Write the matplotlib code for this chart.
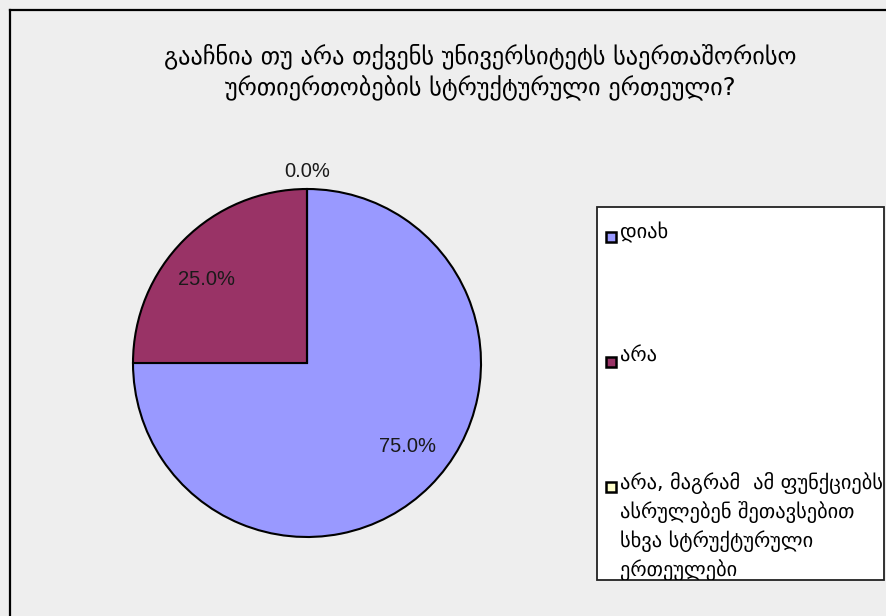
import numpy as np
import matplotlib.pyplot as plt
from matplotlib.patches import Rectangle
from matplotlib.lines import Line2D

# data
title = "გააჩნია თუ არა თქვენს უნივერსიტეტს საერთაშორისო\nურთიერთობების სტრუქტურული ერთეული?"
labels = ["დიახ", "არა",
          "არა, მაგრამ  ამ ფუნქციებს\nასრულებენ შეთავსებით\nსხვა სტრუქტურული\nერთეულები"]
values = [75.0, 25.0, 0.0]
colors = ["#9999FF", "#993366", "#FFFFCC"]

W, H = 886, 616
bg = "#EEEEEE"
fig = plt.figure(figsize=(W / 100, H / 100), dpi=100, facecolor=bg)

def fx(px):
    return px / W

def fy(py):
    return 1 - py / H

# outer border (left and top edges visible)
fig.add_artist(Line2D([fx(9.5), fx(9.5)], [fy(9.5), 0], color="black", lw=1.6))
fig.add_artist(Line2D([fx(9.5), 1], [fy(9.5), fy(9.5)], color="black", lw=1.6))

fig.text(fx(480), fy(72), title, ha="center", va="center", fontsize=17.5,
         family="DejaVu Sans", linespacing=1.32, color="#000000")

# pie
cx, cy, r = 307, 363, 174
ax = fig.add_axes([fx(cx - r), fy(cy + r), 2 * r / W, 2 * r / H])
wedges, texts, autotexts = ax.pie(values, colors=colors, startangle=90, counterclock=False,
                                  autopct="%1.1f%%", pctdistance=0.75,
                                  wedgeprops=dict(edgecolor="black", linewidth=1.5),
                                  textprops=dict(fontsize=14.5, family="Liberation Sans", color="#1a1a1a"))
ax.set_xlim(-1, 1)
ax.set_ylim(-1, 1)
ax.set_aspect("equal")
ax.axis("off")

# labels sit slightly counter-clockwise of the slice middle; empty slice label outside
for w, t, v in zip(wedges, autotexts, values):
    mid = (w.theta1 + w.theta2) / 2
    if v == 0:
        ang, d = np.deg2rad(mid), 1.1
    else:
        ang, d = np.deg2rad(mid + 5.5), 0.75
    t.set_position((d * np.cos(ang), d * np.sin(ang)))

# legend box
lx0, ly0, lx1, ly1 = 597, 207, 884, 580
box = Rectangle((fx(lx0), fy(ly1)), fx(lx1 - lx0), (ly1 - ly0) / H,
                facecolor="white", edgecolor="#222222", lw=1.3)
fig.add_artist(box)
rows = [237, 362, 487]
for lab, col, ry in zip(labels, colors, rows):
    fig.add_artist(Rectangle((fx(606), fy(ry + 5)), fx(10), 10 / H,
                             facecolor=col, edgecolor="black", lw=1.8))
    t = fig.text(fx(620), fy(ry - 15), lab, ha="left", va="top", fontsize=14.7,
                 family="DejaVu Sans", linespacing=1.42, color="#000000")
    t.set_clip_path(box)

fig.savefig("out.png", dpi=100, facecolor=bg)
